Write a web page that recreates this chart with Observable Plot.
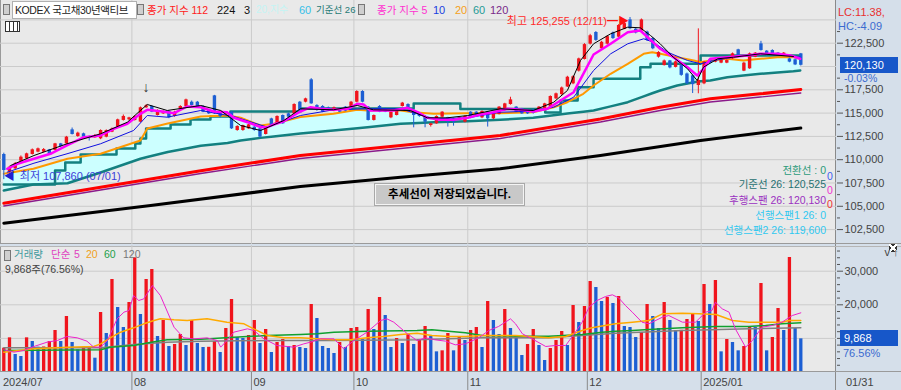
<!DOCTYPE html>
<html><head><meta charset="utf-8">
<script src="https://cdn.jsdelivr.net/npm/d3@7"></script>
<script src="https://cdn.jsdelivr.net/npm/@observablehq/plot@0.6"></script>
<style>
body{margin:0;background:#d5dfea;}
#wrap{position:relative;width:901px;height:390px;overflow:hidden;font-family:"Liberation Sans","Noto Sans CJK KR",sans-serif;font-size:11px;background:#d5dfea;color:#333;}
.abs{position:absolute;white-space:nowrap;line-height:14px;}
.pane{position:absolute;background:#e9e9e9;}
.ico{position:absolute;width:5px;height:9px;border:1px solid #777;background:#cfcfcf;}
svg{position:absolute;}
</style></head><body>
<div id="wrap">
  <div class="pane" style="left:0;top:0;width:835px;height:243px;border-left:1px solid #9a9a9a;"></div>
  <div class="pane" style="left:0;top:246px;width:835px;height:125px;border-left:1px solid #9a9a9a;"></div>
  <div style="position:absolute;left:835px;top:0;width:1px;height:390px;background:#8a8a8a"></div>
  <div style="position:absolute;left:0;top:243px;width:901px;height:1px;background:#9a9a9a"></div>
  <div style="position:absolute;left:0;top:246px;width:901px;height:1px;background:#b5b5b5"></div>
  <div style="position:absolute;left:0;top:371px;width:901px;height:1px;background:#9a9a9a"></div>
  <div style="position:absolute;left:889px;top:244px;width:8px;height:8px;background:linear-gradient(45deg,transparent 42%,#fff 42% 58%,transparent 58%),linear-gradient(-45deg,#333 42%,#fff 42% 58%,#333 58%);"></div>
</div>
<script>
// ---- data ----
const openV  = [110560,108660,109020,109840,110090,110560,110810,110810,111060,110990,111700,111700,113200,112490,112780,112490,112350,112240,112420,112950,113490,114210,114280,114210,114030,115570,115710,114740,114920,115170,114640,115460,115710,116170,116170,115710,115350,116850,114990,114920,115100,113130,113130,113310,113490,113310,112700,114380,113850,114740,114920,114920,116170,116170,118570,115820,115710,115570,115210,115460,115640,115710,116170,117320,115640,114210,115710,115460,114490,114740,115710,115920,115280,114920,114640,113670,113850,114560,114490,114380,114280,114030,115100,115100,114490,115100,114380,114850,115280,115920,115640,115460,115280,115350,115280,115460,115640,116530,116990,117800,118140,119500,120750,122400,123650,121900,122400,123600,123150,124000,125000,124000,123800,123700,123000,121000,120100,120600,119900,120100,119200,119000,117960,118140,120720,120470,120360,120360,120820,121790,119500,119750,121000,122430,121650,121720,121430,121180,120820,120720,121360];
const closeV = [108840,109200,109560,110270,110630,111060,111170,111090,110560,111700,111420,112420,112700,112850,112420,112420,112600,113130,113130,113310,114280,114640,114490,114640,115570,115780,115100,115280,115170,114490,115100,115710,116420,115820,115710,115100,114920,114920,114640,115100,113310,113560,113670,113740,113130,112420,113490,113670,114640,113850,114560,115920,115280,116530,115990,115280,115100,115280,115570,115100,115210,116170,117320,116170,114210,114740,115100,115100,115100,115170,116070,115460,114740,114640,114030,113850,114640,115100,114030,114030,114490,114640,114490,114740,115170,114380,114920,115640,115990,116420,115100,114920,114920,114990,115640,115990,116780,117070,117700,118850,118900,120820,122350,123300,122800,122600,123200,123000,124400,124600,124050,123600,125000,122800,121900,121500,120600,119850,120500,119050,118150,118050,118500,120470,120360,120720,120720,120640,121360,121000,120360,121360,121430,121720,121180,121360,121180,121430,120470,120170,120130];
const highV  = [110700,109300,109700,110400,110700,111150,111250,111200,111100,111750,111750,112500,113400,112950,112850,112550,112700,113200,113200,113400,114350,114800,114550,114700,115650,115900,115800,115350,115250,115250,115200,115800,116500,116300,116250,115800,115400,116900,115050,115150,115150,113650,113700,113800,113550,113400,113550,114450,114700,114800,115000,116000,116250,116600,118700,115900,115800,115650,115650,115500,115700,116250,117400,117400,115700,114800,115800,115500,115150,115250,116150,116000,115350,115000,114700,113900,114700,115150,114550,114450,114550,114700,115150,115150,115250,115150,115000,115700,116050,116700,115700,115500,115350,115400,115700,116050,116850,117150,117800,118950,119000,120900,122450,123450,123750,122700,123300,123700,124500,124700,125255,124100,125100,123800,123100,121600,120700,120650,120600,120200,119300,119100,124040,120550,120800,120800,120800,120700,121450,121850,120450,121450,121500,122700,121700,121800,121500,121500,120900,120800,121400];
const lowV   = [107860,108550,108950,109800,110000,110500,110750,110750,110450,110950,111300,111650,112650,112400,112350,112000,112300,112150,112350,112900,113400,114150,114200,114150,113950,115500,115050,114700,114850,114400,114550,115400,115650,115750,115650,115050,114850,114850,114500,114850,113250,113050,113050,113250,113050,112350,112650,113600,113800,113800,114500,114850,115200,116100,115950,115200,115050,115200,115150,115050,115150,115650,116100,116100,114150,114150,115050,115050,114400,114700,115650,115400,113420,114550,113420,113500,113800,114500,113500,113600,114200,113950,114400,114700,114400,113500,114300,114800,115200,115850,115050,114850,114850,114900,115200,115400,115600,116450,116900,117750,118050,119400,120700,122300,122700,121800,122300,122900,123100,123950,123950,123500,123700,122700,121800,120900,120050,119750,119850,118950,118050,117100,117070,118050,120300,120400,120300,120300,120750,120950,119450,119700,120950,121650,121100,121300,121100,121100,120400,120100,120050];
const volV   = [7093,10170,5210,4610,10170,9080,7390,7450,9080,12350,9080,16520,8780,6600,7390,7450,4110,17710,11460,27530,19200,13240,20680,33980,17110,27530,30500,10570,15330,7590,8180,11160,7890,15330,8480,7290,7350,9080,5800,12950,21580,10270,9970,10860,15330,8480,12650,5800,8780,9670,7590,7890,7290,7000,20090,15920,7590,7000,5510,8780,7290,12950,13240,9670,18600,12650,22170,16810,7290,9970,8480,11160,8180,9370,13540,10570,6000,6300,11460,6300,10570,9370,12350,13240,7290,20980,15330,11160,18600,12950,9970,4910,8180,12650,7890,3420,7000,9370,12050,7890,19790,14730,19500,26930,25150,20980,22170,20390,22470,13540,13240,10270,11760,20090,16520,12950,20680,15330,12350,12400,15630,17110,15030,26040,20090,27230,6000,9670,8780,6300,7590,13540,13240,26340,6300,10270,18900,12350,34080,12950,9868];

// line readings: [candle index, value]
const ma5Pts = [[0.6,109023],[2.4,109560],[5.3,110096],[8.2,110633],[11.1,111524],[14.1,112414],[17,112597],[19.3,113315],[21.7,113852],[24,114925],[25.2,115353],[27.5,115204],[29.9,114989],[32.2,115708],[34.6,115633],[36.9,115172],[39.2,115097],[40.4,114496],[42.8,114024],[45.1,113487],[46.3,113487],[47.4,113777],[49.2,114131],[50.9,114742],[52.1,115171],[53.9,115633],[55.6,115461],[57.9,115354],[60.4,115461],[62.1,115998],[63.2,115923],[64.4,115279],[66.2,115279],[68.5,115279],[70.9,115569],[72.7,115096],[74.4,114495],[76.7,114281],[79,114281],[81.5,114495],[83.7,114850],[86,115096],[88.5,115461],[90.8,115354],[93,115172],[95.5,115461],[97.8,116352],[100.1,117243],[101.8,119217],[103.6,121288],[106.6,122436],[109.6,123681],[111.8,123863],[113.1,123144],[115.3,121899],[117.6,120998],[120.1,119925],[121.8,119035],[122.9,119753],[124.1,120826],[127.1,120998],[130.6,121180],[132.9,121363],[135.9,121363],[138.2,121180],[139.9,120826]];
const ma10Pts = [[0.6,108659],[5.3,109625],[11.1,110633],[17,111709],[22.8,113133],[25.2,114743],[28.7,114560],[34.6,115279],[40.4,114635],[46.3,113487],[52.1,114743],[57.9,115354],[63.9,115461],[69.7,115461],[75.5,114389],[81.5,114495],[87.2,115096],[93,115204],[96.6,115633],[100.1,116706],[103.6,119572],[106.6,121363],[109.6,122436],[112.4,122972],[114.1,122608],[116.6,121535],[120.1,120644],[122.4,120290],[124.7,120644],[128.2,120998],[132.9,121363],[137.7,121180],[139.9,120998]];
const convPts = [[1.2,109377],[5.3,110450],[11.1,111706],[17,112779],[21.7,114020],[24,115279],[25.2,115923],[28.7,115279],[34.6,115816],[38.1,115279],[41.6,113670],[45.1,113133],[49.2,114206],[52.1,115461],[57.9,115354],[62.1,115816],[64.9,115354],[71.4,115279],[74.4,114495],[77.9,114495],[81.5,114742],[87.2,115461],[93,115279],[96.6,116170],[99,117425],[101.3,120644],[103.6,122436],[106.6,123509],[109.6,124217],[111.8,124153],[113.6,123327],[115.3,122436],[117.6,120998],[120.1,119753],[121.8,118498],[122.9,119925],[125.4,120826],[128.2,120998],[132.9,121363],[138.7,121073]];
// [index, MA20, MA60]
const cloudPts = [[0,108485,106695],[5.2,109023,107339],[11.2,110096,107479],[17,110633,108620],[24,112060,110096],[25.2,113348,110280],[28.8,113884,110830],[34.6,114633,111500],[39.3,114742,111790],[41.6,114495,112050],[45.1,113670,112340],[47.4,113852,112500],[52.1,114582,112811],[57.9,114925,113133],[62.1,115353,113380],[63.9,115279,113487],[69.7,115279,113852],[71.9,115096,113920],[75.5,114925,114024],[81.5,114989,114131],[87.2,114989,114281],[93,115096,114495],[96.6,115633,114760],[99,116170,114960],[101.8,117071,115150],[103.6,117962,115279],[106.6,119217,115720],[109.6,120290,116170],[112.4,121363,116800],[113.9,121535,117130],[115.3,121363,117425],[118.3,120998,117962],[121.2,120644,118316],[122.4,120462,118420],[124.1,120644,118498],[127.1,120826,118852],[129.9,120644,119030],[132.9,120826,119217],[135.9,120998,119360],[138.7,120998,119496],[139.9,120826,119571]];
const kijunPts = [[0,107339],[9,108840],[10.8,109700],[13.5,110560],[19.8,111200],[23.1,111740],[24,112280],[25,113350],[29.3,113780],[32.8,114310],[36.3,114640],[39.8,115170],[52.1,115490],[72,116030],[80.2,115440],[95.1,115060],[97.8,116350],[100.8,117780],[103.6,118680],[111.8,119930],[113.6,120290],[122.4,121180],[140,121180]];
const ma112Pts = [[0,105332],[17,107049],[34.6,108808],[52.1,110450],[69.7,111523],[87.2,112596],[104.8,114367],[115.3,115633],[124.1,116534],[132.9,117071],[140,117532]];
const ma120Pts = [[0,105032],[17,106749],[34.6,108519],[52.1,110128],[69.7,111201],[87.2,112274],[104.8,114045],[115.3,115278],[124.1,116190],[132.9,116727],[140,117157]];
const ma224Pts = [[0,103187],[25.8,105085],[52.1,107124],[69.7,108122],[87.2,109023],[104.8,110450],[122.4,112060],[140,113401]];

const vma5Pts = [[0,6600],[1.8,5900],[3.5,6400],[5.3,7590],[7.6,8880],[9.4,9370],[11.1,10570],[12.9,10170],[14.6,9180],[15.8,7390],[17,7390],[18.2,9370],[19.9,15820],[21.1,17810],[22,18300],[22.8,22770],[23.7,21280],[24.6,21770],[26.1,25740],[27.5,22770],[29.9,13340],[31.6,10170],[33.4,9870],[35.7,10170],[37.5,9370],[38.1,7390],[39.2,9370],[40.4,11850],[42.8,12850],[43.9,12350],[45.7,9870],[48,7890],[50.9,7390],[52.7,8380],[53.9,8880],[55.6,9870],[58,9870],[59.7,6890],[61.5,9370],[63.8,11850],[66.2,15330],[67.3,15820],[68.5,14830],[70.9,11360],[72.6,9370],[74.1,10170],[75.8,9570],[77.6,9180],[79.3,8090],[81.1,8380],[83.4,10170],[85.2,12350],[86.9,13540],[89,15820],[89.9,14330],[91.1,11360],[92.8,9870],[95.2,7590],[96.9,7890],[98.7,7890],[100.4,11850],[101.6,14830],[102.8,19290],[104.2,21280],[105.7,22470],[106.9,22970],[108,22070],[109.2,19790],[110.4,17810],[112.1,14830],[113.3,14330],[115.7,16320],[116.8,16810],[119.2,14830],[121.5,14830],[123.3,17810],[124.4,18300],[125,20780],[126.2,18800],[127.4,17810],[128.5,12850],[130.3,7390],[131.5,9370],[133.2,13340],[135,13840],[136.7,14830],[138.5,16810],[140,17610]];
const vma20Pts = [[0,5902],[5.3,6894],[11.1,7391],[15.8,7589],[17,8382],[18.7,10168],[20.5,11854],[22.8,13145],[24.6,14334],[26.4,15326],[27.5,15822],[29.9,15524],[32.2,15326],[35.7,15822],[39.2,14830],[42.2,14334],[43.9,12846],[46.3,10862],[49.2,10168],[52.1,10168],[55,9870],[58,9573],[60.9,9573],[63.8,10168],[66.7,10565],[69.7,11160],[72.6,11557],[75.2,10862],[78.1,10565],[81.1,10565],[84,10862],[89.9,10862],[95.7,10168],[98.7,10565],[101.6,12350],[103.3,13145],[107.4,14334],[110.4,14830],[113.3,15326],[115.7,17310],[119.2,17508],[122.1,17310],[125.1,17111],[128,15326],[130.9,14830],[133.8,14830],[136.7,14830],[137.9,15326],[140,15326]];
const vma60Pts = [[0,6398],[17,6597],[18.7,7391],[22.8,7886],[25.9,8878],[28.7,9573],[34.6,9771],[40.4,10367],[46.3,10862],[52.1,11160],[55,11358],[58,11854],[63.8,12151],[72.6,12350],[75.2,12548],[78.1,12151],[81.1,11655],[84,10862],[89.9,10664],[95.7,10664],[101.6,11160],[105.1,11854],[107.4,12151],[110.4,12350],[113.3,12647],[119.2,13145],[125.1,13541],[130.9,13541],[133.8,13838],[136.7,14334],[140,14632]];
const vma120Pts = [[0,7193],[17,7193],[22.8,8184],[28.7,8878],[34.6,9176],[46.3,9374],[58,9374],[72.6,9573],[84,10168],[95.7,10168],[101.6,10862],[107.4,11557],[119.2,12350],[130.9,12846],[140,13145]];

const monthIdx = [-0.5, 22.5, 43.5, 61.5, 81.5, 102.5, 122.5];
const monthLbl = ["2024/07","08","09","10","11","12","2025/01"];
const priceTicks = [102500,105000,107500,110000,112500,115000,117500,120000,122500,125000];
const priceLabels = [102500,105000,107500,110000,112500,115000,117500,122500];
const priceMinor = [103750,106250,108750,111250,113750,116250,118750,121250,123750];
const volGrid = [10000,20000,30000];
const volLabels = [20000,30000];
const volMinor = [2000,4000,6000,8000,12000,14000,16000,18000,22000,24000,26000,28000,32000,34000,36000];
const hiDate = "12/11", loDate = "07/01";
const lastChange = "-0.03%", volRatio = "76.56%";

// ---- drawing ----
const RED = "#f0141c", BLUE = "#1d5fd3";
const fmt = d3.format(",");
const wrap = document.getElementById("wrap");
const xDom = [-0.58, 146.27];
const font = {background:"none", fontFamily:'"Liberation Sans","Noto Sans CJK KR",sans-serif', fontSize:"11px", color:"#444", overflow:"visible"};
const candles = d3.range(openV.length).map(i => ({i, o:openV[i], c:closeV[i], h:highV[i], l:lowV[i], col: closeV[i] >= openV[i] ? RED : BLUE}));
const vols = volV.map((v,i) => ({i, v, col: i === 0 || v >= volV[i-1] ? RED : BLUE}));
const hiI = d3.maxIndex(highV), loI = d3.minIndex(lowV);
const line = (pts, stroke, w, extra={}) => Plot.line(pts, {x: d=>d[0], y: d=>d[1], stroke, strokeWidth: w, ...extra});

const main = Plot.plot({
  width: 901, height: 244, marginLeft: 0, marginRight: 65, marginTop: 0, marginBottom: 0,
  style: font,
  x: {domain: xDom, axis: null},
  y: {domain: [100900, 127082], axis: null},
  marks: [
    Plot.gridY(priceTicks, {stroke:"#cbcbcb", strokeOpacity:1}),
    Plot.ruleX(monthIdx.slice(1), {stroke:"#cbcbcb"}),
    Plot.areaY(cloudPts, {x: d=>d[0], y1: d=>d[2], y2: d=>d[1], fill:"#ccffff", fillOpacity:1}),
    line(ma224Pts, "#000", 3),
    line(ma112Pts, "#ff0000", 3),
    line(ma120Pts, "#8b1a8b", 1.3),
    line(cloudPts.map(d=>[d[0],d[2]]), "#138080", 2.5),
    line(kijunPts, "#138080", 2.5, {curve:"step-after"}),
    line(cloudPts.map(d=>[d[0],d[1]]), "#ff9900", 2),
    Plot.ruleX(candles, {x:"i", y1:"l", y2:"h", stroke:"col", strokeWidth:1}),
    Plot.ruleX(candles, {x:"i", y1:"o", y2:"c", stroke:"col", strokeWidth:3.4}),
    line(ma10Pts, "#1010e0", 1),
    line(ma5Pts, "#ff00ff", 2.5),
    line(convPts, "#000", 1),
    Plot.axisY(priceLabels, {anchor:"right", tickSize:6, tickPadding:2, tickFormat: fmt, fill:"#444", stroke:"#555", fontSize:11}),
    Plot.axisY(priceMinor, {anchor:"right", tickSize:3, fill:"none", stroke:"#555"}),
    Plot.text([hiI], {x: d=>d, y: d=>highV[d], text: d=>`최고 ${fmt(highV[d])} (${hiDate})`, textAnchor:"end", dx:-23, dy:4, fill:"#ff2a2a", fontSize:11}),
    Plot.text([hiI], {x: d=>d, y: d=>highV[d], text: () => "━▶", textAnchor:"end", dx:-1, dy:4, fill:"#ff1010", fontSize:11}),
    Plot.text([loI], {x: d=>d, y: d=>lowV[d], text: d=>`최저 ${fmt(lowV[d])} (${loDate})`, textAnchor:"start", dx:16, dy:-3, fill:"#3d3dd9", fontSize:11}),
    Plot.text([loI], {x: d=>d, y: d=>lowV[d], text: () => "◀", textAnchor:"start", dx:0, dy:-3, fill:"#2020d0", fontSize:11}),
    Plot.text([25], {x: d=>d, y: d=>highV[d], text: () => "↓", dy:-17, fill:"#333", fontSize:14})
  ]
});
main.style.left = "0px"; main.style.top = "0px";
wrap.appendChild(main);

const vol = Plot.plot({
  width: 901, height: 126, marginLeft: 0, marginRight: 65, marginTop: 0, marginBottom: 0,
  style: font,
  x: {domain: xDom, axis: null},
  y: {domain: [149, 37649], axis: null},
  marks: [
    Plot.gridY(volGrid, {stroke:"#cbcbcb", strokeOpacity:1}),
    Plot.ruleX(monthIdx.slice(1), {stroke:"#cbcbcb"}),
    Plot.ruleX(vols, {x:"i", y1:0, y2:"v", stroke:"col", strokeWidth:3.3, clip:true}),
    line(vma120Pts, "#808080", 1.5),
    line(vma60Pts, "#10a030", 1.5),
    line(vma20Pts, "#ffaa00", 1.5),
    line(vma5Pts, "#ee22cc", 1),
    Plot.axisY(volLabels, {anchor:"right", tickSize:6, tickPadding:2, tickFormat: fmt, fill:"#444", stroke:"#555", fontSize:11}),
    Plot.axisY([10000], {anchor:"right", tickSize:6, fill:"none", stroke:"#555"}),
    Plot.axisY(volMinor, {anchor:"right", tickSize:3, fill:"none", stroke:"#555"})
  ]
});
vol.style.left = "0px"; vol.style.top = "245px";
wrap.appendChild(vol);

const xa = Plot.plot({
  width: 901, height: 19, marginLeft: 0, marginRight: 65, marginTop: 0, marginBottom: 0,
  style: font,
  x: {domain: xDom, axis: null},
  y: {domain: [0, 1], axis: null},
  marks: [
    Plot.ruleX(monthIdx.slice(1), {stroke:"#8a8a8a"}),
    Plot.text(monthIdx, {x: d=>d, y: 0.5, text: (d,i)=>monthLbl[i], textAnchor:"start", dx:2, fill:"#444", fontSize:11})
  ]
});
xa.style.left = "0px"; xa.style.top = "372px";
wrap.appendChild(xa);

// ---- html overlays (legends, labels) ----
function put(html, css){ const d = document.createElement("div"); d.className = "abs"; d.innerHTML = html; Object.assign(d.style, css); wrap.appendChild(d); return d; }
function ico(l,t){ const d=document.createElement("div"); d.className="ico"; d.style.left=l+"px"; d.style.top=t+"px"; wrap.appendChild(d); }
ico(3,4); ico(137,4); ico(358,4); ico(4,250);
put("KODEX 국고채30년액티브", {left:"12px", top:"1px", width:"121px", height:"16px", background:"#fff", border:"1px solid #b0b0b0", paddingLeft:"2px", color:"#222", lineHeight:"16px", fontSize:"10.5px", letterSpacing:"-0.4px"});
const leg = [["종가 지수 112",147,"#ff2020",10.5],["224",217,"#111",11],["3",244,"#111",11],["20,지수",256,"#c4f4f4",10],["60",299,"#36c0e8",11],["기준선 26",316,"#1f7a76",9.5],
  ["종가 지수 5",377,"#ff30d0",10.5],["10",433,"#1a3ee0",11],["20",455,"#f5a020",11],["60",473,"#1f9a96",11],["120",490,"#7a2a8a",11]];
leg.forEach(([t,l,c,s]) => put(t, {left:l+"px", top:"3px", color:c, fontSize:s+"px"}));
// small table icon
put("", {left:"5px", top:"21px", width:"13px", height:"9px", border:"1px solid #333", background:"repeating-linear-gradient(90deg,#fff 0 3px,#333 3px 4px)"});

// volume legend
const vleg = [["거래량",14,"#3f9a9e"],["단순",51,"#e040c0"],["5",74,"#e040c0"],["20",86,"#f0a020"],["60",104,"#22a04a"],["120",123,"#777"]];
vleg.forEach(([t,l,c]) => put(t, {left:l+"px", top:"247px", color:c, fontSize:"10.5px"}));
put(`${fmt(volV[volV.length-1])}주(${volRatio})`, {left:"5px", top:"262px", color:"#444", fontSize:"10.5px"});

// right panel labels
put("LC:11.38,", {left:"838px", top:"5px", color:"#e83030"});
put("HC:-4.09", {left:"838px", top:"19px", color:"#3a6ad0"});
const yMain = main.scale("y"), yVol = vol.scale("y");
const lastClose = closeV[closeV.length-1], lastVol = volV[volV.length-1];
put(fmt(lastClose), {left:"840px", top:(yMain.apply(lastClose)-8)+"px", width:"54px", height:"16px", lineHeight:"16px", background:"#1757c9", color:"#fff", paddingLeft:"4px"});
put(lastChange, {left:"844px", top:(yMain.apply(lastClose)+7)+"px", color:"#3a6ad0", lineHeight:"12px", fontSize:"10.5px"});
put(fmt(lastVol), {left:"840px", top:(245+yVol.apply(lastVol)-8)+"px", width:"54px", height:"16px", lineHeight:"16px", background:"#1757c9", color:"#fff", paddingLeft:"4px"});
put(volRatio, {left:"843px", top:(245+yVol.apply(lastVol)+8)+"px", color:"#3a6ad0"});
put("01/31", {left:"846px", top:"375px", color:"#444"});

// ichimoku value box
const ich = [["전환선 : 0",163,"#2a9a7a"],["기준선 26: 120,525",177,"#1f7070"],["후행스팬 26: 120,130",193,"#9a30c0"],["선행스팬1 26: 0",208,"#30c8f0"],["선행스팬2 26: 119,600",223,"#30c8f0"]];
ich.forEach(([t,top,c]) => put(t, {right:(901-826)+"px", top:top+"px", color:c, textAlign:"right", fontSize:"10.5px"}));
put("0", {left:"827px", top:"169px", color:"#4060f0", fontSize:"10.5px"});
put("0", {left:"827px", top:"183px", color:"#f030d0", fontSize:"10.5px"});
put("0", {left:"827px", top:"197px", color:"#f03030", fontSize:"10.5px"});

// popup
put("추세선이 저장되었습니다.", {left:"375px", top:"184px", width:"147px", height:"19px", lineHeight:"19px", background:"#c8c8c8", border:"1px solid #f4f4f4", outline:"1px solid #a8a8a8", color:"#000", fontWeight:"bold", textAlign:"center", fontSize:"11.5px"});
</script>
</body></html>
